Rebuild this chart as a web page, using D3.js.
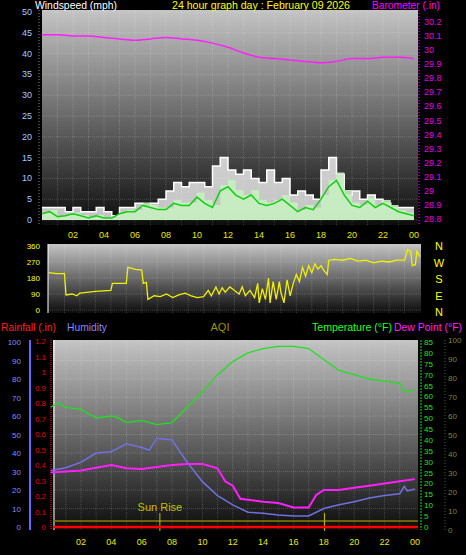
<!DOCTYPE html>
<html><head><meta charset="utf-8">
<script src="https://cdn.jsdelivr.net/npm/d3@7"></script>
<style>body{margin:0;background:#000}svg{display:block;font-family:"Liberation Sans",Arial,sans-serif}</style>
</head><body>
<script>
// half-hour samples, 0..24
var windGust = [3,3,3,2,3,2,2,3,2,1,3,3,4,3,4,5,7,9,8,9,9,8,13,15,12,11,12,10,9,12,9,10,6,7,6,5,12,15,11,6,7,5,6,5,4,3,3,3,3];
var windAvg = [1.5,2,0.8,1,1.5,1,0.5,1,0.5,0.5,1.5,2,2,3.5,3,2.5,2.5,4,3.5,3.5,5.5,4,3,7,8,6,5,6,4,3.5,4,5,3.5,2,3,2.5,5,8,9.5,6,3.5,3,4.5,3,4,3,2,1.5,1];
// barometer, hourly 0..24
var baro = [30.11,30.11,30.10,30.10,30.09,30.08,30.07,30.08,30.09,30.08,30.07,30.05,30.02,29.98,29.95,29.94,29.93,29.92,29.91,29.92,29.94,29.94,29.95,29.95,29.94];
// wind direction [hour, degrees]
var windDir = [[0,210],[0.5,205],[1,205],[1.1,85],[1.5,90],[1.8,80],[2,95],[3,105],[4,110],[4.1,150],[5,150],[5.1,240],[5.6,228],[6,225],[6.1,150],[6.3,155],[6.4,60],[6.8,80],[7.2,75],[7.6,90],[8,70],[8.4,85],[8.8,95],[9.2,80],[9.6,70],[10,75],[10.3,110],[10.5,80],[10.8,130],[11,90],[11.2,125],[11.4,100],[11.7,130],[12,110],[12.3,90],[12.5,130],[12.7,80],[13,110],[13.3,70],[13.5,150],[13.6,40],[13.8,120],[14,60],[14.2,180],[14.3,40],[14.5,160],[14.7,60],[14.9,160],[15,100],[15.2,40],[15.4,170],[15.6,80],[15.8,150],[16,200],[16.2,160],[16.4,240],[16.6,190],[16.8,250],[17,210],[17.2,260],[17.4,230],[17.6,250],[17.8,220],[18,200],[18.1,280],[18.5,285],[19,280],[19.5,290],[20,275],[20.5,280],[21,265],[21.5,275],[22,270],[22.5,280],[23,280],[23.2,340],[23.4,330],[23.5,250],[23.7,255],[23.8,330],[24,300]];
// bottom panel [hour, value]
var temperature = [[0,55],[0.5,57],[1,55],[2,54],[3,50],[4,51],[4.5,50],[5,48],[6,49],[7,47],[8,48],[9,55],[10,62],[11,70],[12,76],[13,80],[14,82],[15,83],[16,83],[17,82],[18,77],[19,72],[20,70],[21,68],[22,67],[23,66],[23.3,62],[24,63]];
var dewPoint = [[0,25],[2,26],[4,28.5],[5,27],[6,26.6],[8,28.5],[9,29],[10,29],[11,27],[11.5,21],[12,19],[12.5,13],[13,12.5],[14,11.6],[15,11],[16,9],[17,9],[17.5,14.7],[18,17],[19,17],[20,18],[21,19],[22,20],[23,21],[24,22]];
var humidity = [[0,30.6],[1,32],[2,35],[3,40],[4,40.7],[5,45],[6,43],[6.5,41.6],[7,48],[8,47],[9,35],[10,24.5],[11,17],[12,12],[13,8],[14,7.4],[15,6.5],[16,6],[17,6],[18,10],[19,12],[20,13.7],[21,15.7],[22,17],[23,18],[23.3,22],[23.5,19.5],[24,20.5]];
var sunEvents = [7.2, 18.05];
var hourTicks = [2,4,6,8,10,12,14,16,18,20,22,24];
var fmtHour = function(h){ var v = h % 24; return (v < 10 ? "0" : "") + v; };

var W = 466, H = 555;
var svg = d3.select("body").append("svg").attr("width", W).attr("height", H);
var defs = svg.append("defs");
var g = defs.append("linearGradient").attr("id", "bg").attr("x1", 0).attr("x2", 0).attr("y1", 0).attr("y2", 1);
g.append("stop").attr("offset", "0%").attr("stop-color", "#c4c4c4");
g.append("stop").attr("offset", "100%").attr("stop-color", "#0c0c0c");

function panel(x0, x1, y0, y1, xs, yGrid) {
    svg.append("rect").attr("x", x0).attr("y", y0).attr("width", x1 - x0).attr("height", y1 - y0).attr("fill", "url(#bg)");
    var gr = svg.append("g").attr("stroke", "#fff").attr("stroke-opacity", 0.18).attr("stroke-dasharray", "1,1");
    d3.range(1, 24).forEach(function(h) {
        gr.append("line").attr("x1", xs(h)).attr("x2", xs(h)).attr("y1", y0).attr("y2", y1);
    });
    yGrid.forEach(function(y) {
        gr.append("line").attr("x1", x0).attr("x2", x1).attr("y1", y).attr("y2", y);
    });
}
function timeAxis(xs, y) {
    svg.append("g").selectAll("text").data(hourTicks).enter().append("text")
        .attr("x", function(d){ return xs(d); }).attr("y", y).attr("text-anchor", "middle")
        .attr("fill", "#e8e800").attr("font-size", 9).text(fmtHour);
}
function label(x, y, t, c, anchor, len) {
    var el = svg.append("text").attr("x", x).attr("y", y).attr("fill", c).attr("font-size", 11)
        .attr("text-anchor", anchor || "start").text(t);
    if (len) el.attr("textLength", len).attr("lengthAdjust", "spacingAndGlyphs");
}

// ---- top: wind + barometer
var x1 = d3.scaleLinear().domain([0, 24]).range([42, 414]);
var yw = d3.scaleLinear().domain([0, 50]).range([220, 12]);
var yb = d3.scaleLinear().domain([28.8, 30.2]).range([219, 22]);
panel(42, 418, 10, 225, x1, d3.range(0, 51, 5).map(yw));
label(35, 9, "Windspeed (mph)", "#fff", "start", 82);
label(172, 9, "24 hour graph day : February 09 2026", "#ffff00", "start", 178);
label(372, 9, "Barometer (.in)", "#ff00ff", "start", 68);
svg.append("g").selectAll("text").data(d3.range(0, 51, 5)).enter().append("text")
    .attr("x", 32).attr("y", function(d){ return yw(d) + 3; }).attr("text-anchor", "end")
    .attr("fill", "#a8c8ff").attr("font-size", 9).text(function(d){ return d; });
svg.append("line").attr("x1", 39).attr("x2", 39).attr("y1", 10).attr("y2", 225).attr("stroke", "#888").attr("stroke-dasharray", "1,2");
svg.append("line").attr("x1", 419).attr("x2", 419).attr("y1", 10).attr("y2", 225).attr("stroke", "#ff00ff").attr("stroke-dasharray", "1,2");
svg.append("g").selectAll("text").data(d3.range(28.8, 30.21, 0.1)).enter().append("text")
    .attr("x", 424).attr("y", function(d){ return yb(d) + 3; })
    .attr("fill", "#e000e0").attr("font-size", 9).text(function(d){ return +d.toFixed(1); });
var halfIdx = function(d, i){ return x1(i / 2); };
svg.append("path").datum(windGust).attr("fill", "#ffffff").attr("fill-opacity", 0.75)
    .attr("d", d3.area().x(halfIdx).y0(yw(0)).y1(function(d){ return yw(d); }).curve(d3.curveStepAfter));
svg.append("path").datum(windGust).attr("fill", "none").attr("stroke", "#fff").attr("stroke-width", 1.5)
    .attr("d", d3.line().x(halfIdx).y(function(d){ return yw(d); }).curve(d3.curveStepAfter));
svg.append("path").datum(windAvg).attr("fill", "#c8f0c0").attr("fill-opacity", 0.9)
    .attr("d", d3.area().x(halfIdx).y0(yw(0)).y1(function(d){ return yw(d * 1.2); }).curve(d3.curveStepAfter));
svg.append("path").datum(windAvg).attr("fill", "none").attr("stroke", "#10d010").attr("stroke-width", 1.5)
    .attr("d", d3.line().x(halfIdx).y(function(d){ return yw(d); }));
svg.append("path").datum(baro).attr("fill", "none").attr("stroke", "#ff20ff").attr("stroke-width", 1.5)
    .attr("d", d3.line().x(function(d, i){ return x1(i); }).y(function(d){ return yb(d); }).curve(d3.curveMonotoneX));
timeAxis(x1, 238);

// ---- middle: wind direction
var x2 = d3.scaleLinear().domain([0, 24]).range([49, 420]);
var yd = d3.scaleLinear().domain([0, 360]).range([310, 246]);
panel(48, 421, 244, 313, x2, [0, 90, 180, 270, 360].map(yd));
svg.append("line").attr("x1", 48).attr("x2", 48).attr("y1", 244).attr("y2", 313).attr("stroke", "#fff");
svg.append("g").selectAll("text").data([0, 90, 180, 270, 360]).enter().append("text")
    .attr("x", 40).attr("y", function(d){ return yd(d) + 3; }).attr("text-anchor", "end")
    .attr("fill", "#ffff00").attr("font-size", 8).text(function(d){ return d; });
["N", "W", "S", "E", "N"].forEach(function(t, i) {
    label(439, 250 + i * 16.5, t, "#ffff00", "middle");
});
svg.append("path").datum(windDir).attr("fill", "none").attr("stroke", "#f0f000").attr("stroke-width", 1.3)
    .attr("d", d3.line().x(function(d){ return x2(d[0]); }).y(function(d){ return yd(d[1]); }));

// ---- bottom: temperature etc.
label(1, 331, "Rainfall (.in)", "#ff2020", "start", 55);
label(67, 331, "Humidity", "#8888ff", "start", 40);
label(220, 331, "AQI", "#a09000", "middle");
label(312, 331, "Temperature (°F)", "#20ff20", "start", 80);
label(394, 331, "Dew Point (°F)", "#ff20ff", "start", 68);
var x3 = d3.scaleLinear().domain([0, 24]).range([50.6, 414.9]);
var yh = d3.scaleLinear().domain([0, 100]).range([527, 342]);
var yr = d3.scaleLinear().domain([0, 1.2]).range([527, 341]);
var yt = d3.scaleLinear().domain([0, 85]).range([527, 342]);
var ya = d3.scaleLinear().domain([0, 100]).range([530, 340]);
panel(53, 418, 340, 530, x3, d3.range(0, 101, 10).map(yh));
svg.append("line").attr("x1", 54).attr("x2", 54).attr("y1", 340).attr("y2", 530).attr("stroke", "#fff");
svg.append("line").attr("x1", 30).attr("x2", 30).attr("y1", 340).attr("y2", 530).attr("stroke", "#6666ff").attr("stroke-width", 2);
svg.append("line").attr("x1", 51).attr("x2", 51).attr("y1", 340).attr("y2", 530).attr("stroke", "#ff2020").attr("stroke-dasharray", "1,1");
svg.append("line").attr("x1", 421).attr("x2", 421).attr("y1", 340).attr("y2", 530).attr("stroke", "#20e020").attr("stroke-dasharray", "2,1");
svg.append("line").attr("x1", 445).attr("x2", 445).attr("y1", 340).attr("y2", 530).attr("stroke", "#606020").attr("stroke-dasharray", "1,2");
svg.append("g").selectAll("text").data(d3.range(0, 101, 10)).enter().append("text")
    .attr("x", 21).attr("y", function(d){ return yh(d) + 3; }).attr("text-anchor", "end")
    .attr("fill", "#8888ff").attr("font-size", 8).text(function(d){ return d; });
svg.append("g").selectAll("text").data(d3.range(0, 1.21, 0.1)).enter().append("text")
    .attr("x", 46).attr("y", function(d){ return yr(d) + 3; }).attr("text-anchor", "end")
    .attr("fill", "#e00000").attr("font-size", 8).text(function(d){ return +d.toFixed(1); });
svg.append("g").selectAll("text").data(d3.range(0, 86, 5)).enter().append("text")
    .attr("x", 424).attr("y", function(d){ return yt(d) + 3; })
    .attr("fill", "#20e020").attr("font-size", 8).text(function(d){ return d; });
svg.append("g").selectAll("text").data(d3.range(0, 101, 10)).enter().append("text")
    .attr("x", 448).attr("y", function(d){ return ya(d) + 3; })
    .attr("fill", "#808040").attr("font-size", 8).text(function(d){ return d; });
svg.append("line").attr("x1", 53).attr("x2", 418).attr("y1", 521).attr("y2", 521).attr("stroke", "#808000").attr("stroke-width", 1.5);
sunEvents.forEach(function(h) {
    svg.append("line").attr("x1", x3(h)).attr("x2", x3(h)).attr("y1", 513).attr("y2", 531).attr("stroke", "#c0c000");
});
label(x3(sunEvents[0]), 511, "Sun Rise", "#c0c000", "middle");
svg.append("line").attr("x1", 53).attr("x2", 418).attr("y1", yr(0)).attr("y2", yr(0)).attr("stroke", "#ff0000").attr("stroke-width", 2.5);
var pl = function(sc){ return d3.line().x(function(d){ return x3(d[0]); }).y(function(d){ return sc(d[1]); }); };
svg.append("path").datum(humidity).attr("fill", "none").attr("stroke", "#7070e0").attr("stroke-width", 1.5).attr("d", pl(yh));
svg.append("path").datum(dewPoint).attr("fill", "none").attr("stroke", "#ff20ff").attr("stroke-width", 2).attr("d", pl(yt));
svg.append("path").datum(temperature).attr("fill", "none").attr("stroke", "#20e020").attr("stroke-width", 1.3).attr("d", pl(yt));
timeAxis(x3, 545);
</script>
</body></html>
